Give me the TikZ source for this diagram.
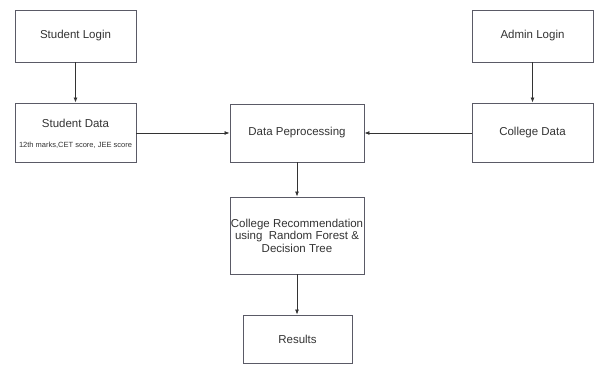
\documentclass[tikz,border=0pt]{standalone}
\usepackage{fontspec}
\setmainfont{Liberation Sans}
\usetikzlibrary{arrows.meta}
\definecolor{boxline}{HTML}{5A5A66}
\definecolor{txt}{HTML}{333333}
\begin{document}
\begin{tikzpicture}[x=1pt,y=-1pt,
  box/.style={draw=boxline,line width=0.9pt,fill=white,text=txt,inner sep=0pt,
    font=\fontsize{11.5}{12.5}\selectfont,align=center},
  conn/.style={draw=txt,line width=0.8pt},
  arr/.style={conn,-{Latex[length=5pt,width=4pt]}}]
\useasboundingbox[fill=white] (0,0) rectangle (596,366);
\node[box,minimum width=121pt,minimum height=52pt] (sl) at (75.5,36) {Student Login};
\node[box,minimum width=121pt,minimum height=59pt] (sd) at (75.5,132.5) {};
\node[text=txt,font=\fontsize{11.5}{12.5}\selectfont] (sdt) at (75.5,123) {Student Data};
\node[text=txt,font=\fontsize{7.5}{9}\selectfont] (sds) at (75.5,145) {12th marks,CET score, JEE score};
\node[box,minimum width=121pt,minimum height=52pt] (al) at (532.5,36) {Admin Login};
\node[box,minimum width=121pt,minimum height=59pt] (cd) at (532.5,132.5) {College Data};
\node[box,minimum width=134pt,minimum height=58pt] (dp) at (297,133) {Data Peprocessing};
\node[box,minimum width=134pt,minimum height=77pt] (cr) at (297,235.5) {College Recommendation\\using\ \ Random Forest \&\\Decision Tree};
\node[box,minimum width=109pt,minimum height=48pt] (rs) at (297.5,339) {Results};
\draw[arr] (sl.south) -- (sd.north);
\draw[arr] (al.south) -- (cd.north);
\draw[arr] (sd.east |- dp.west) -- (dp.west);
\draw[arr] (cd.west |- dp.east) -- (dp.east);
\draw[arr] (dp.south) -- (cr.north);
\draw[arr] (cr.south) -- (cr.south |- rs.north);
\end{tikzpicture}
\end{document}
